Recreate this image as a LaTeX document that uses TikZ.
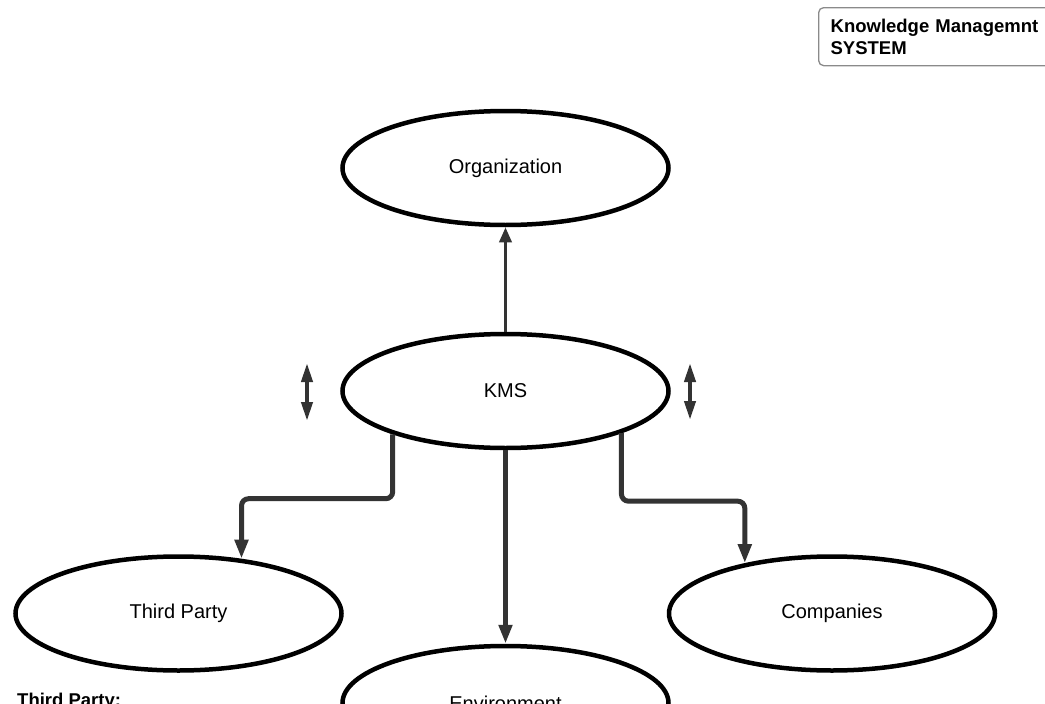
\documentclass[tikz,border=0pt]{standalone}
\usepackage{fontspec}
\setmainfont{Liberation Sans}
\usetikzlibrary{shapes.geometric,arrows.meta,calc}
\definecolor{conncol}{HTML}{333333}
\definecolor{boxcol}{HTML}{8A8A8A}
\tikzset{
  bubble/.style={ellipse, draw=black, line width=4.5pt, fill=white,
    minimum width=326pt, minimum height=114pt, inner sep=0pt,
    font=\fontsize{20}{24}\selectfont},
  conn/.style={draw=conncol, line width=5pt, rounded corners=7pt,
    -{Triangle[length=19pt,width=13pt]}},
  thinconn/.style={draw=conncol, line width=3.5pt,
    -{Triangle[length=15pt,width=12pt]}},
  swing/.style={draw=conncol, line width=4pt,
    {Triangle[length=19pt,width=11pt]}-{Triangle[length=19pt,width=11pt]}},
  titlebox/.style={draw=boxcol, line width=1.3pt, rounded corners=5pt,
    align=left, text width=226pt, inner xsep=12pt, minimum height=58pt,
    font=\fontsize{18.5}{22}\selectfont\bfseries},
}
\begin{document}
\begin{tikzpicture}[x=1pt,y=-1pt]
  \useasboundingbox (0,0) rectangle (1045,704);
  \clip (0,0) rectangle (1045,704);

  % ellipses
  \node[bubble] (org)  at (505.5,168)   {Organization};
  \node[bubble] (kms)  at (505.5,391)   {KMS};
  \node[bubble] (tp)   at (178.5,613.5) {Third Party};
  \node[bubble] (comp) at (832,613.5)   {Companies};
  \node[bubble] (env)  at (505.5,703)   {Environment};

  % title box
  \node[titlebox, anchor=north west] (title) at (818,7)
    {Knowledge Managemnt\\SYSTEM};

  % note heading
  \node[anchor=base west, inner sep=0pt,
        font=\fontsize{18.5}{22}\selectfont\bfseries] (tpnote) at (17,706)
    {Third Party:};

  % connectors
  \draw[thinconn] (kms.north) -- (org.south);
  \draw[conn] (kms.south) -- (env.north);
  \draw[conn] (kms.201.6) |- ($(tp.41)+(0,-60)$) -- (tp.41);
  \draw[conn] (kms.-20.9) |- ($(comp.150.9)+(0,-62)$) -- (comp.150.9);

  % up/down markers beside KMS
  \coordinate (lt) at (307,363);
  \coordinate (lb) at (307,421);
  \coordinate (rt) at (690,363);
  \coordinate (rb) at (690,420);
  \draw[swing] (lt) -- (lb);
  \draw[swing] (rt) -- (rb);
\end{tikzpicture}
\end{document}
